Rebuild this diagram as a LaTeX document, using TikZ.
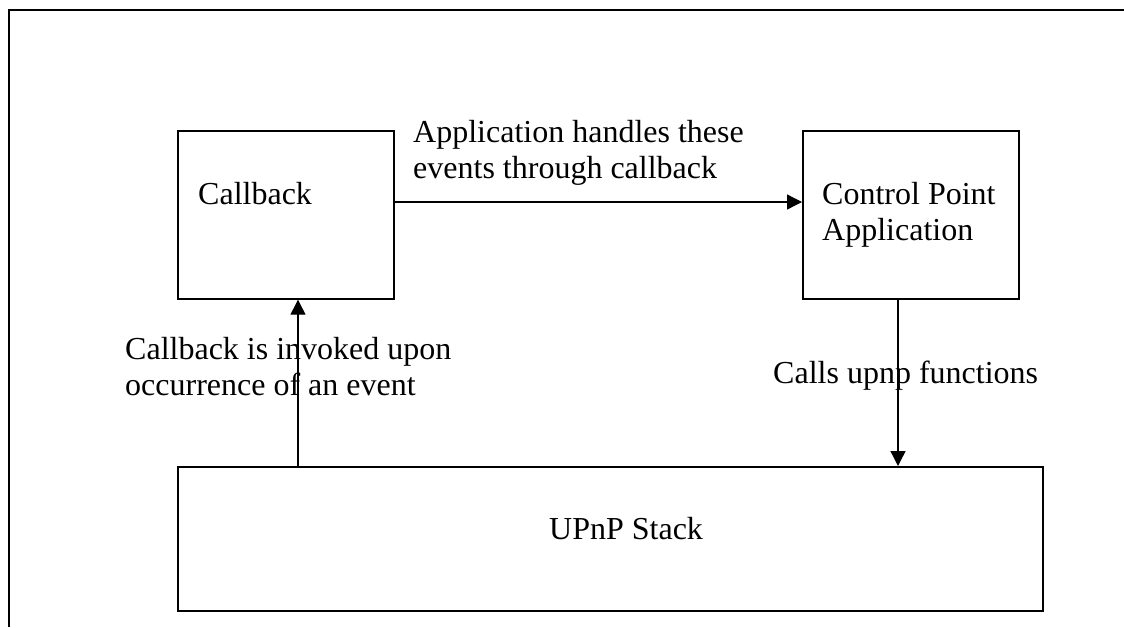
\documentclass[tikz,border=0pt]{standalone}
\usepackage{fontspec}
\setmainfont{Liberation Serif}
\usetikzlibrary{arrows.meta}
\begin{document}
\begin{tikzpicture}[x=1pt,y=-1pt,
  box/.style={draw, line width=1.7pt, inner sep=0pt, anchor=north west},
  arr/.style={line width=1.3pt, -{Triangle[length=15pt,width=15pt]}},
  lbl/.style={inner sep=0pt, anchor=base west, align=left, font=\fontsize{32}{35.5}\selectfont},
  frameline/.style={line width=2pt}]
\useasboundingbox (0,0) rectangle (1124,627);
\draw[frameline] (9,627) -- (9,10) -- (1124,10);
% boxes
\node[box, minimum width=216pt, minimum height=168pt] (cb) at (177,130) {};
\node[box, minimum width=216pt, minimum height=168pt] (cp) at (802,130) {};
\node[box, minimum width=865pt, minimum height=144pt] (stack) at (177,466) {};
% texts (base anchor = baseline of the last line)
\node[lbl] (cbt) at (198,204) {Callback};
\node[lbl] (cpt) at (822,240) {Control Point\\Application};
\node[lbl] (stt) at (549,539) {UPnP Stack};
\node[lbl] (l1) at (413,178) {Application handles these\\events through callback};
\node[lbl] (l2) at (125,395) {Callback is invoked upon\\occurrence of an event};
\node[lbl] (l3) at (773,383) {Calls upnp functions};
% connectors
\coordinate (upx) at (298,0);
\coordinate (dnx) at (898,0);
\coordinate (hy) at (0,202);
\draw[arr] (stack.north -| upx) -- (cb.south -| upx);
\draw[arr] (cb.east |- hy) -- (cp.west |- hy);
\draw[arr] (cp.south -| dnx) -- (stack.north -| dnx);
\end{tikzpicture}
\end{document}
